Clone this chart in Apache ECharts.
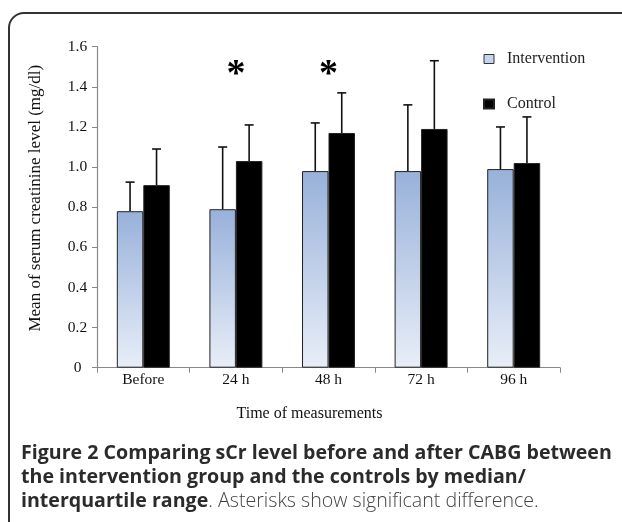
<!DOCTYPE html>
<html>
<head>
<meta charset="utf-8">
<script src="https://cdn.jsdelivr.net/npm/echarts@6/dist/echarts.min.js"></script>
<style>
  html, body { margin: 0; padding: 0; background: #fff; width: 622px; height: 522px; overflow: hidden; }
  #frame { position: absolute; left: 8px; top: 12px; width: 720px; height: 620px; border: 2px solid #333; border-radius: 16px; box-sizing: border-box; }
  #chart { position: absolute; left: 0; top: 0; width: 622px; height: 522px; }
  #caption { position: absolute; left: 21px; top: 440px; width: 610px; white-space: nowrap; font-family: "Open Sans", sans-serif; font-size: 19.6px; line-height: 24px; color: #444; font-weight: 300; }
  #caption b { font-weight: 700; color: #2b2b2b; }
</style>
</head>
<body>
<div id="frame"></div>
<div id="chart"></div>
<div id="caption"><b>Figure 2 Comparing sCr level before and after CABG between<br>the intervention group and the controls by median/<br>interquartile range</b>. Asterisks show significant difference.</div>
<script>
const categories = ['Before', '24 h', '48 h', '72 h', '96 h'];
const interventionMedian = [0.78, 0.79, 0.98, 0.98, 0.99];
const controlMedian = [0.91, 1.03, 1.17, 1.19, 1.02];
const interventionUpper = [0.925, 1.10, 1.22, 1.31, 1.20];
const controlUpper = [1.09, 1.21, 1.37, 1.53, 1.25];
const asteriskCategories = ['24 h', '48 h'];
const asteriskLevel = 1.49;
const yTicks = [0, 0.2, 0.4, 0.6, 0.8, 1.0, 1.2, 1.4, 1.6];

const BAR_FRAC = 0.286;

function errorSeries(name, upper, median, side) {
  return {
    type: 'custom',
    name: name + ' error',
    silent: true,
    z: 5,
    data: upper.map((u, i) => [i, u, median[i]]),
    encode: { x: 0, y: 1 },
    renderItem: function (params, api) {
      const idx = api.value(0);
      const top = api.coord([idx, api.value(1)]);
      const base = api.coord([idx, api.value(2)]);
      const band = api.size([1, 0])[0];
      const x = top[0] + side * band * BAR_FRAC / 2;
      const capHalf = 4.5;
      const style = { stroke: '#111', lineWidth: 1.6 };
      return {
        type: 'group',
        children: [
          { type: 'line', shape: { x1: x, y1: base[1], x2: x, y2: top[1] }, style: style },
          { type: 'line', shape: { x1: x - capHalf, y1: top[1], x2: x + capHalf, y2: top[1] }, style: style }
        ]
      };
    }
  };
}

const chart = echarts.init(document.getElementById('chart'));
const serif = '"Liberation Serif", "DejaVu Serif", serif';
chart.setOption({
  animation: false,
  backgroundColor: 'transparent',
  grid: { left: 97, right: 62, top: 46.7, bottom: 154.3, containLabel: false },
  legend: {
    orient: 'vertical',
    left: 478,
    top: 46,
    itemGap: 29,
    itemWidth: 10,
    itemHeight: 9,
    data: [
      { name: 'Intervention', icon: 'rect', itemStyle: { color: '#c5d4ee', borderColor: '#333', borderWidth: 1 } },
      { name: 'Control', icon: 'rect', itemStyle: { color: '#000' } }
    ],
    textStyle: { fontFamily: serif, fontSize: 16, color: '#222', padding: [0, 0, 0, 8] }
  },
  xAxis: {
    type: 'category',
    data: categories,
    name: 'Time of measurements',
    nameLocation: 'middle',
    nameGap: 38,
    nameTextStyle: { fontFamily: serif, fontSize: 16, color: '#111', padding: [0, 38, 0, 0] },
    axisLine: { lineStyle: { color: '#888', width: 1.2 } },
    axisTick: { show: true, length: 5, lineStyle: { color: '#888' } },
    axisLabel: { fontFamily: serif, fontSize: 15.5, color: '#111', margin: 4 }
  },
  yAxis: {
    type: 'value',
    min: 0,
    max: 1.6,
    interval: 0.2,
    name: 'Mean of serum creatinine level (mg/dl)',
    nameLocation: 'middle',
    nameGap: 53,
    nameTextStyle: { fontFamily: serif, fontSize: 17, color: '#111', padding: [0, 0, 0, 18] },
    axisLine: { show: true, lineStyle: { color: '#888', width: 1.2 } },
    axisTick: { show: true, length: 5, lineStyle: { color: '#888' } },
    splitLine: { show: false },
    axisLabel: {
      fontFamily: serif, fontSize: 15.5, color: '#111', margin: 19.5, align: 'center',
      formatter: function (v) {
        const t = yTicks.find(x => Math.abs(x - v) < 1e-6);
        if (t === undefined) return '';
        return t === 0 ? '0' : t.toFixed(1);
      }
    }
  },
  series: [
    {
      name: 'Intervention',
      type: 'bar',
      data: interventionMedian,
      barWidth: (BAR_FRAC * 100) + '%',
      barGap: '0%',
      itemStyle: {
        color: new echarts.graphic.LinearGradient(0, 0, 0, 1, [
          { offset: 0, color: '#98b1da' },
          { offset: 1, color: '#e8eef8' }
        ]),
        borderColor: '#222',
        borderWidth: 1
      }
    },
    {
      name: 'Control',
      type: 'bar',
      data: controlMedian,
      barWidth: (BAR_FRAC * 100) + '%',
      barGap: '0%',
      itemStyle: { color: '#000', borderColor: '#222', borderWidth: 1 }
    },
    errorSeries('Intervention', interventionUpper, interventionMedian, -1),
    errorSeries('Control', controlUpper, controlMedian, 1),
    {
      type: 'custom',
      name: 'asterisk',
      silent: true,
      z: 6,
      data: asteriskCategories.map(c => [categories.indexOf(c), asteriskLevel]),
      encode: { x: 0, y: 1 },
      renderItem: function (params, api) {
        const p = api.coord([api.value(0), api.value(1)]);
        return {
          type: 'text',
          x: p[0],
          y: p[1] + 6,
          style: {
            text: '*',
            fill: '#000',
            font: 'bold 38px "Liberation Serif", serif',
            align: 'center',
            verticalAlign: 'middle'
          }
        };
      }
    }
  ]
});
</script>
</body>
</html>
